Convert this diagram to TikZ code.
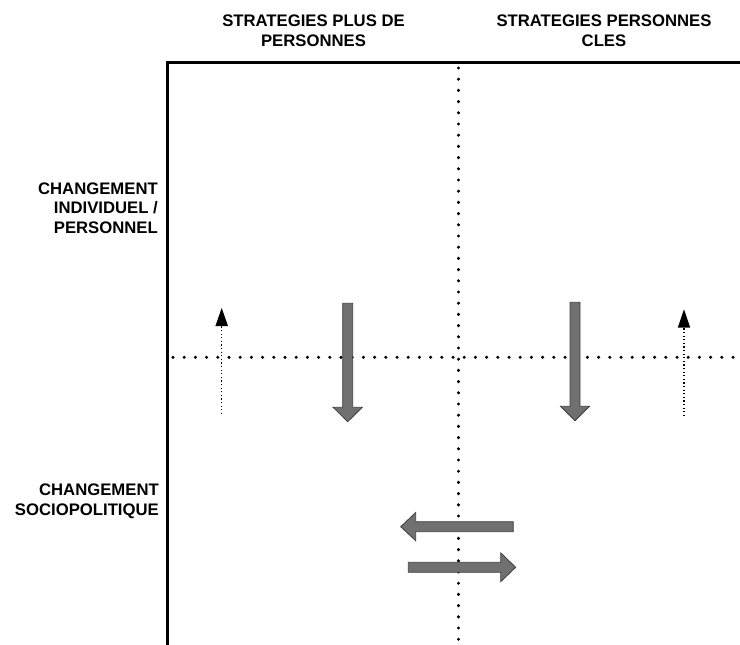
\documentclass[tikz,border=0pt]{standalone}
\usepackage{fontspec}
\setmainfont{Liberation Sans}
\begin{document}
\begin{tikzpicture}[x=1pt,y=-1pt,
  lbl/.style={inner sep=0pt,font={\fontsize{16.7}{19.5}\selectfont\bfseries}},
  frameline/.style={line width=3pt,line cap=rect},
  bigdot/.style={line width=3.4pt,line cap=round,dash pattern=on 0pt off 11.2pt},
  finedot/.style={line width=1.4pt,dash pattern=on 1.2pt off 2.4pt},
  fatarrow/.style={fill=black!56,draw=black!75,line width=0.8pt,line join=miter},
  smallhead/.style={fill=black,draw=none}]
\useasboundingbox (0,0) rectangle (740,645);
% labels
\node[lbl,align=center,anchor=north] (h1) at (313.5,15) {STRATEGIES PLUS DE\\PERSONNES};
\node[lbl,align=center,anchor=north] (h2) at (604,15) {STRATEGIES PERSONNES\\CLES};
\node[lbl,align=right,anchor=north east] (l1) at (158,182.5) {CHANGEMENT\\INDIVIDUEL /\\PERSONNEL};
\node[lbl,align=right,anchor=north east] (l2) at (159,484) {CHANGEMENT\\SOCIOPOLITIQUE};
% frame
\coordinate (fbl) at (167,648);
\coordinate (ftl) at (167,62);
\coordinate (ftr) at (743,62);
\draw[frameline] (fbl) -- (ftl) -- (ftr);
% dotted axes
\coordinate (vtop) at (458.5,68);
\coordinate (vbot) at (458.5,640);
\coordinate (hl) at (173,357.3);
\coordinate (hr) at (740,357.3);
\draw[bigdot] (vtop) -- (vbot);
\draw[bigdot] (hl) -- (hr);
% small dotted up arrows
\coordinate (sa1b) at (221.7,414);
\coordinate (sa1t) at (221.7,326);
\draw[finedot] (sa1b) -- (sa1t);
\fill[smallhead] (215.4,326) -- (221.7,308) -- (228,326) -- cycle;
\coordinate (sa2b) at (684,416);
\coordinate (sa2t) at (684,327.5);
\draw[finedot] (sa2b) -- (sa2t);
\fill[smallhead] (677.8,327.5) -- (684,309.3) -- (690.2,327.5) -- cycle;
% big down arrows
\draw[fatarrow] (342.7,303.3) -- (352.7,303.3) -- (352.7,407.3) -- (362.3,407.3)
  -- (347.7,421.7) -- (333.1,407.3) -- (342.7,407.3) -- cycle;
\draw[fatarrow] (570,302.3) -- (580,302.3) -- (580,406.3) -- (589.4,406.3)
  -- (575,420.7) -- (560.6,406.3) -- (570,406.3) -- cycle;
% horizontal fat arrows
\draw[fatarrow] (513.3,521.7) -- (513.3,531.7) -- (415.7,531.7) -- (415.7,540.7)
  -- (400.7,526.7) -- (415.7,512.5) -- (415.7,521.7) -- cycle;
\draw[fatarrow] (408.3,562.3) -- (500.7,562.3) -- (500.7,552.8) -- (515.7,567.3)
  -- (500.7,581.7) -- (500.7,572.3) -- (408.3,572.3) -- cycle;
\end{tikzpicture}
\end{document}
